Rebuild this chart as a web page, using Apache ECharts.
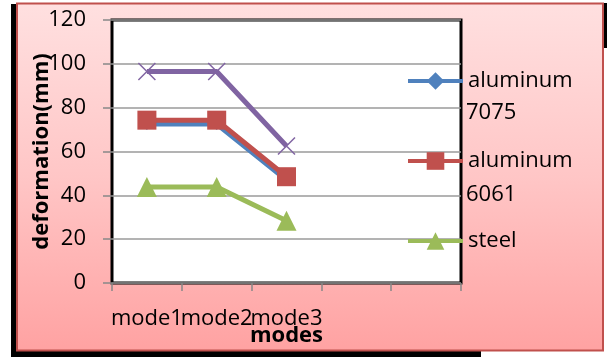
<!DOCTYPE html>
<html>
<head>
<meta charset="utf-8">
<script src="https://cdn.jsdelivr.net/npm/echarts@6/dist/echarts.min.js"></script>
<style>
  html, body { margin: 0; padding: 0; background: #ffffff; }
  #chart { width: 608px; height: 358px; }
</style>
</head>
<body>
<div id="chart"></div>
<script>
// Deformation per vibration mode for each material
const categories = ['mode1', 'mode2', 'mode3', '', ''];
const seriesNames = ['aluminum 7075', 'aluminum 6061', 'steel', 'series4'];
const aluminum7075 = [72.5, 72.5, 47];
const aluminum6061 = [74.3, 74.3, 48.5];
const steel = [43.8, 43.8, 28.4];
const series4 = [96.5, 96.5, 62.5];
const yMin = 0, yMax = 120, yStep = 20;
const legendNames = seriesNames.slice(0, 3);

const FONT = 'Open Sans';
const colors = ['#4F81BD', '#C0504D', '#9BBB59', '#8064A2'];
const crossPath = 'path://M0,0L10,10M10,0L0,10';

const chart = echarts.init(document.getElementById('chart'), null, { renderer: 'canvas' });

function lineSeries(name, data, color, symbol, size, extraItem) {
  return {
    name: name,
    type: 'line',
    data: data,
    color: color,
    symbol: symbol,
    symbolSize: size,
    symbolKeepAspect: true,
    lineStyle: { width: 5, color: color },
    itemStyle: Object.assign({ color: color }, extraItem || {}),
    emphasis: { disabled: true },
    animation: false
  };
}

// second line of each wrapped legend entry
const legendSecondLines = [
  { text: seriesNames[0].split(' ')[1], y: 113 },
  { text: seriesNames[1].split(' ')[1], y: 195 }
];

chart.setOption({
  animation: false,
  textStyle: { fontFamily: FONT },
  graphic: {
    elements: [
      { type: 'rect', z: -10, silent: true, shape: { x: 11, y: 4, width: 6, height: 353 }, style: { fill: '#000' } },
      { type: 'rect', z: -10, silent: true, shape: { x: 11, y: 350, width: 470, height: 7 }, style: { fill: '#000' } },
      { type: 'rect', z: -10, silent: true, shape: { x: 603, y: 3, width: 4, height: 45 }, style: { fill: '#000' } },
      {
        type: 'rect', z: -9, silent: true,
        shape: { x: 17, y: 3.5, width: 586, height: 347 },
        style: {
          fill: new echarts.graphic.LinearGradient(0, 0, 0, 1, [
            { offset: 0, color: '#FFE0E0' },
            { offset: 0.5, color: '#FFC6C6' },
            { offset: 1, color: '#FFA2A2' }
          ]),
          stroke: '#C0504D', lineWidth: 2
        }
      }
    ].concat(legendSecondLines.map(function (l) {
      return {
        type: 'text', z: 10, silent: true,
        x: 466, y: l.y,
        style: { text: l.text, fontFamily: FONT, fontSize: 22, fill: '#000', textVerticalAlign: 'middle', textAlign: 'left' }
      };
    }))
  },
  grid: {
    left: 112, right: 147, top: 20, bottom: 75,
    outerBoundsMode: 'none',
    containLabel: false,
    show: true, backgroundColor: '#ffffff', borderColor: '#000', borderWidth: 3
  },
  legend: {
    data: legendNames,
    orient: 'vertical',
    left: 406, top: 70,
    padding: 0,
    itemWidth: 55, itemHeight: 22, itemGap: 58,
    formatter: function (name) { return name.split(' ')[0]; },
    textStyle: { fontFamily: FONT, fontSize: 22, color: '#000', lineHeight: 22 },
    lineStyle: { width: 4 },
    selectedMode: false
  },
  xAxis: {
    type: 'category',
    data: categories,
    boundaryGap: true,
    name: 'modes',
    nameLocation: 'middle',
    nameGap: 42,
    nameMoveOverlap: false,
    nameTextStyle: { fontFamily: FONT, fontSize: 22, fontWeight: 'bold', color: '#000' },
    axisLine: { show: false },
    axisTick: { show: true, length: 8, lineStyle: { color: '#888', width: 1.5 } },
    axisLabel: { interval: 0, margin: 25, fontFamily: FONT, fontSize: 22, color: '#000' },
    splitLine: { show: false }
  },
  yAxis: {
    type: 'value',
    min: yMin, max: yMax, interval: yStep,
    name: 'deformation(mm)',
    nameLocation: 'middle',
    nameGap: 59,
    nameMoveOverlap: false,
    nameTextStyle: { fontFamily: FONT, fontSize: 22, fontWeight: 'bold', color: '#000' },
    axisLine: { show: false },
    axisTick: { show: true, length: 9, lineStyle: { color: '#888', width: 1.5 } },
    axisLabel: { margin: 26, fontFamily: FONT, fontSize: 22, color: '#000' },
    splitLine: { show: true, lineStyle: { color: '#9a9a9a', width: 1.5 } }
  },
  series: [
    lineSeries(seriesNames[0], aluminum7075, colors[0], 'diamond', 12),
    lineSeries(seriesNames[1], aluminum6061, colors[1], 'rect', 19),
    lineSeries(seriesNames[2], steel, colors[2], 'triangle', 20),
    lineSeries(seriesNames[3], series4, colors[3], crossPath, 17, { borderColor: colors[3], borderWidth: 1.5 })
  ]
});
</script>
</body>
</html>
